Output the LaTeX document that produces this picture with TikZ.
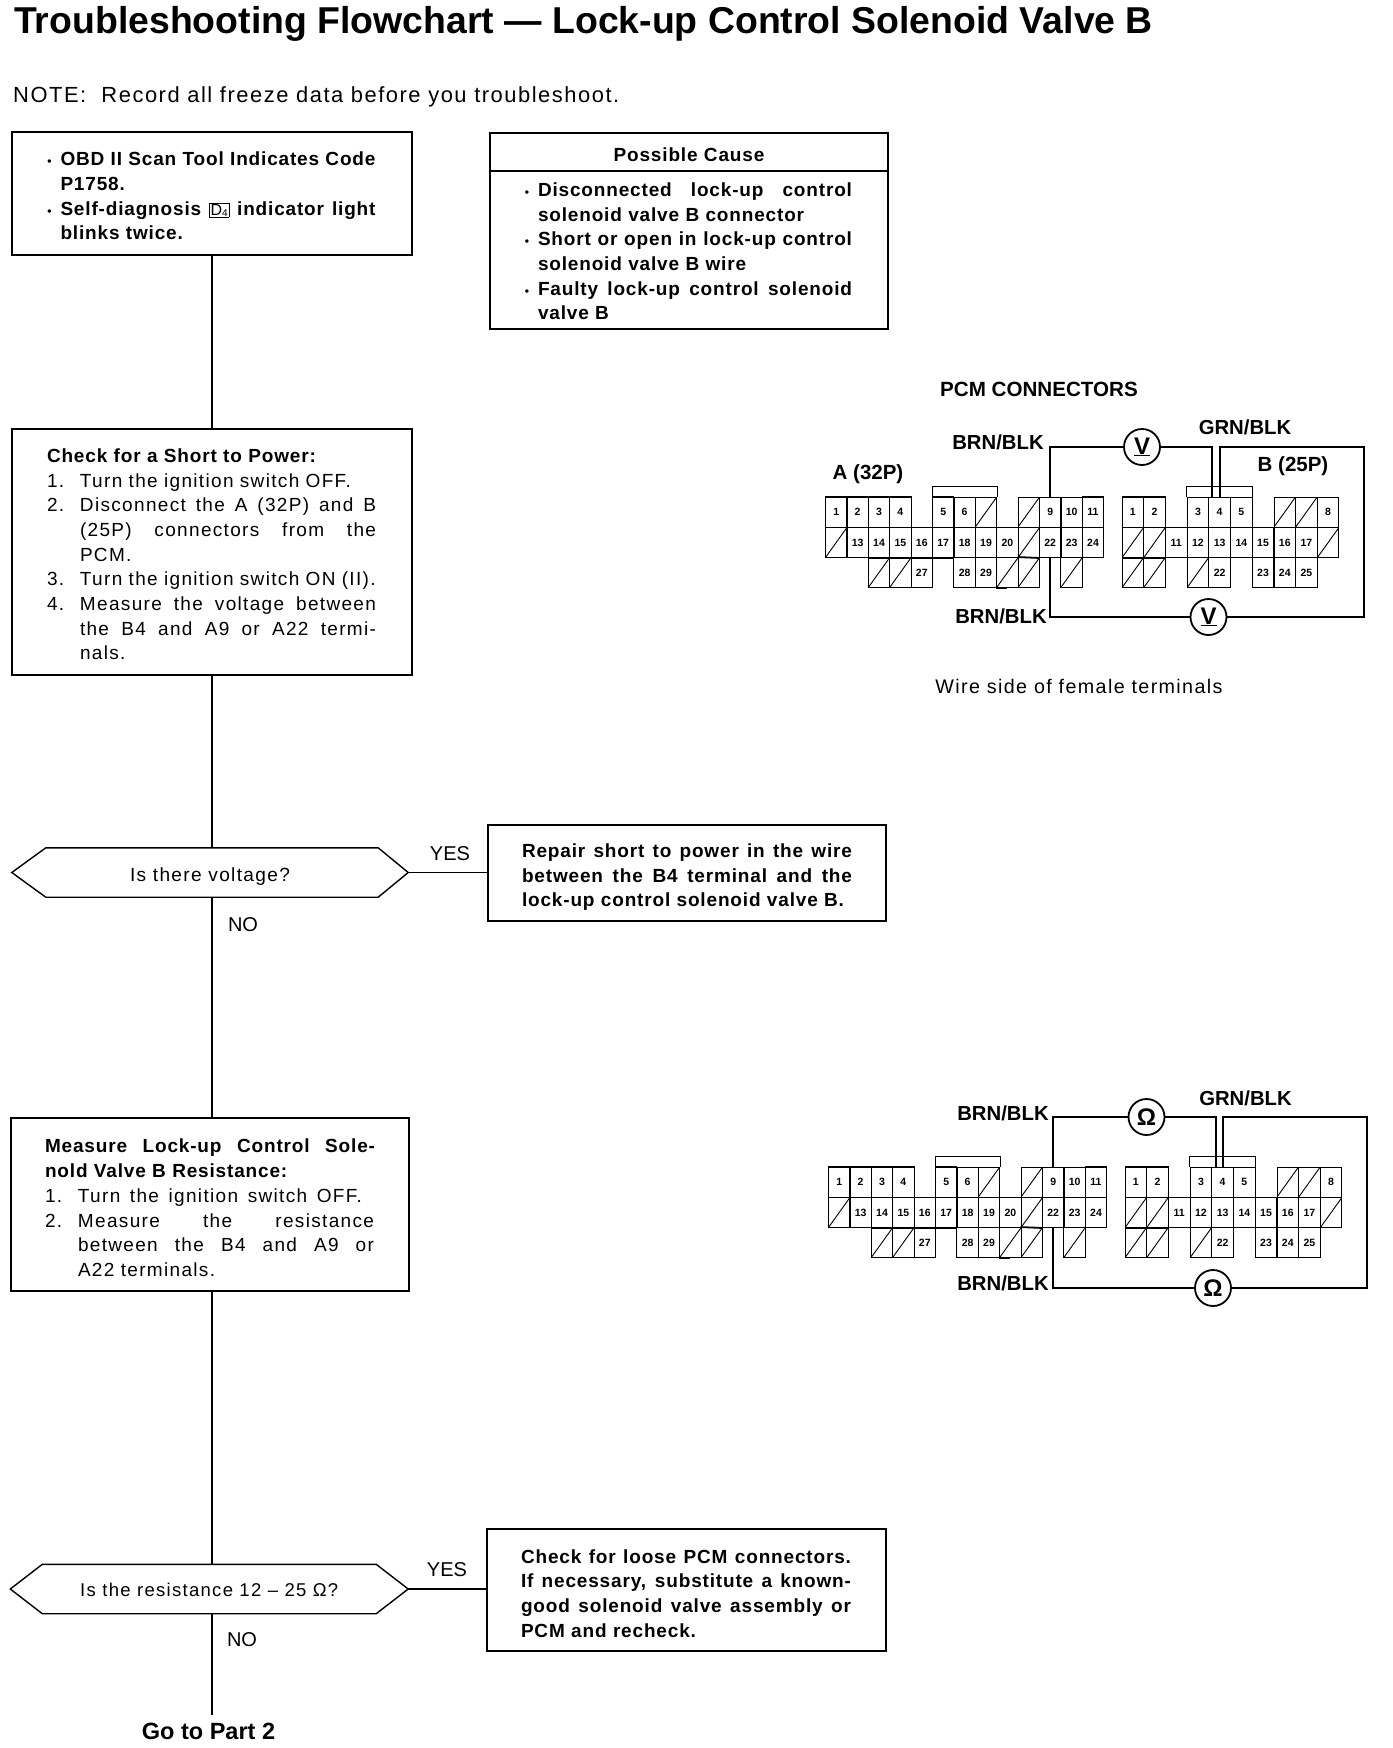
\documentclass[tikz,border=0pt]{standalone}
\usepackage{fontspec}
\setmainfont{Liberation Sans}
\newfontfamily\bodyfont{Liberation Sans}[LetterSpace=7]
\newfontfamily\boldbody{Liberation Sans}[LetterSpace=4.4]
\usetikzlibrary{calc}
\newcommand\tsz[2]{\fontsize{#1}{#2}\selectfont}
\newcommand\stl[2]{\makebox[#1pt][s]{\spaceskip=.28em plus 1fil\relax #2}}
\newcommand\numl[2]{\makebox[33pt][l]{#1}\mbox{#2}}
\newcommand\bul{\llap{{\tsz{12}{12}•}\hspace{9pt}}}
\newcommand\topadj[1]{\rule{0pt}{#1pt}}
\newcommand\pcmpins{%
  % A (32P)
  \foreach \c/\l in {0/1,1/2,2/3,3/4,5/5,6/6,10/9,11/10,12/11}
    \node[termcell] (a\l) at ({825.5+21.4*(\c+.5)},512) {\l};
  \foreach \c in {7,9}
    \node[termcell,hatchcell] (ah1\c) at ({825.5+21.4*(\c+.5)},512) {};
  \foreach \c/\l in {1/13,2/14,3/15,4/16,5/17,6/18,7/19,8/20,10/22,11/23,12/24}
    \node[termcell] (a\l) at ({825.5+21.4*(\c+.5)},542.5) {\l};
  \foreach \c in {0,9}
    \node[termcell,hatchcell] (ah2\c) at ({825.5+21.4*(\c+.5)},542.5) {};
  \foreach \c/\l in {4/27,6/28,7/29}
    \node[termcell] (a\l) at ({825.5+21.4*(\c+.5)},572.5) {\l};
  \foreach \c in {2,3,8,9,11}
    \node[termcell,hatchcell] (ah3\c) at ({825.5+21.4*(\c+.5)},572.5) {};
  \draw[thinrule] (a5.north west) -- ++(0,-10) -| (ah17.north east);
  \draw[heavyrule] (a1.north west) -- (a4.north east);
  \draw[heavyrule] (a1.south west) -- (a4.south east);
  \draw[heavyrule] (a14.south west) -- (a17.south east);
  \draw[heavyrule] (ah39.north west) -- (a22.south west);
  \draw[heavyrule] (a5.north west) -- (a5.north east);
  \draw[heavyrule] (a11.north west) -- (a11.north east);
  \draw[heavyrule] (ah38.south west) -- (ah38.south);
  % B (25P)
  \foreach \c/\l in {0/1,1/2,3/3,4/4,5/5,9/8}
    \node[termcell] (b\l) at ({1122+21.7*(\c+.5)},512) {\l};
  \foreach \c in {7,8}
    \node[termcell,hatchcell] (bh1\c) at ({1122+21.7*(\c+.5)},512) {};
  \foreach \c/\l in {2/11,3/12,4/13,5/14,6/15,7/16,8/17}
    \node[termcell] (b\l) at ({1122+21.7*(\c+.5)},542.5) {\l};
  \foreach \c in {0,1,9}
    \node[termcell,hatchcell] (bh2\c) at ({1122+21.7*(\c+.5)},542.5) {};
  \foreach \c/\l in {4/22,6/23,7/24,8/25}
    \node[termcell] (b\l) at ({1122+21.7*(\c+.5)},572.5) {\l};
  \foreach \c in {0,1,3}
    \node[termcell,hatchcell] (bh3\c) at ({1122+21.7*(\c+.5)},572.5) {};
  \draw[thinrule] (b3.north west) -- ++(0,-10) -| (b5.north east);
  \draw[heavyrule] (b1.north west) -- (b2.north east);
  \draw[heavyrule] (bh20.south west) -- (bh21.south east);
  \draw[heavyrule] (b1.south west) -- (b2.south east);
}
\begin{document}
\begin{tikzpicture}[x=1pt,y=-1pt,
  flowbox/.style={draw,line width=1.4pt,rectangle,inner ysep=0pt,align=left,
    font={\tsz{19}{24.7}\bodyfont}},
  boldbox/.style={flowbox,font={\tsz{19}{24.7}\boldbody\bfseries}},
  hexlabel/.style={inner sep=0pt},
  hexline/.style={line width=1.4pt,line join=miter},
  flowline/.style={line width=1.2pt},
  answer/.style={inner sep=0pt,font={\tsz{20}{24}}},
  wirelabel/.style={inner sep=0pt,font={\tsz{20.3}{24}\bfseries}},
  termcell/.style={draw,line width=.9pt,rectangle,inner sep=0pt,
    minimum width=21.5pt,minimum height=30pt,font={\tsz{10.5}{12}\bfseries}},
  hatchcell/.style={path picture={\draw[line width=.9pt]
    (path picture bounding box.south west) -- (path picture bounding box.north east);}},
  thinrule/.style={line width=.9pt},
  heavyrule/.style={line width=1.8pt},
  wire/.style={line width=2pt,line join=miter},
  meter/.style={draw,circle,line width=1.8pt,minimum size=36pt,inner sep=0pt,
    font={\tsz{24}{26}\bfseries}}]
\path[use as bounding box,fill=white] (0,0) rectangle (1392,1748);

\node[anchor=base west,inner sep=0pt,font={\tsz{37.4}{40}\bfseries}] (title) at (14,33)
  {Troubleshooting Flowchart — Lock-up Control Solenoid Valve B};
\node[anchor=base west,inner sep=0pt,font={\tsz{21.9}{26}\bodyfont}] (note) at (13,102)
  {NOTE:\ \ Record all freeze data before you troubleshoot.};

% flow column
\node[boldbox,minimum width=400pt,minimum height=123pt,inner xsep=48.5pt,text width=303pt] (box1) at (212,193.5)
  {\topadj{18.5}\mbox{\bul\stl{315}{OBD II Scan Tool Indicates Code}}\\
   \mbox{P1758.}\\
   \mbox{\bul\stl{315}{Self-diagnosis {\fboxsep=1pt\fbox{\bodyfont\mdseries\tsz{16}{16}D\raisebox{-1pt}{\tsz{10}{10}4}}} indicator light}}\\
   \mbox{blinks twice.}};
\coordinate (trunk) at (box1.south);

\node[flowbox,minimum width=400pt,minimum height=246pt,inner xsep=35pt,text width=330pt] (box2) at (212,552)
  {\topadj{18.5}\mbox{\boldbody\bfseries Check for a Short to Power:}\\
   \numl{1.}{Turn the ignition switch OFF.}\\
   \numl{2.}{\stl{296}{Disconnect the A (32P) and B}}\\
   \numl{}{\stl{296}{(25P) connectors from the}}\\
   \numl{}{PCM.}\\
   \numl{3.}{Turn the ignition switch ON (II).}\\
   \numl{4.}{\stl{296}{Measure the voltage between}}\\
   \numl{}{\stl{296}{the B4 and A9 or A22 termi-}}\\
   \numl{}{nals.}};

\node[hexlabel,minimum width=396pt,minimum height=49pt,font={\tsz{19.1}{24}\bodyfont}] (hex1) at (210,872.5) {\topadj{22}Is there voltage?};
\draw[hexline] (hex1.west) -- ($(hex1.north west)+(34,0)$) -- ($(hex1.north east)+(-30,0)$)
  -- (hex1.east) -- ($(hex1.south east)+(-30,0)$) -- ($(hex1.south west)+(34,0)$) -- cycle;

\node[flowbox,minimum width=398pt,minimum height=173pt,inner xsep=34pt,text width=330pt] (box3) at (210,1204.5)
  {\topadj{20.5}\mbox{\boldbody\bfseries\stl{330}{Measure Lock-up Control Sole-}}\\
   \mbox{\boldbody\bfseries nold Valve B Resistance:}\\
   \numl{1.}{\stl{284}{Turn the ignition switch OFF.}}\\
   \numl{2.}{\stl{296}{Measure the resistance}}\\
   \numl{}{\stl{296}{between the B4 and A9 or}}\\
   \numl{}{A22 terminals.}};

\node[hexlabel,minimum width=397.5pt,minimum height=49pt,font={\tsz{18.5}{24}\bodyfont}] (hex2) at (209.25,1589) {\topadj{16}Is the resistance 12 – 25 Ω?};
\draw[hexline] (hex2.west) -- ($(hex2.north west)+(32,0)$) -- ($(hex2.north east)+(-32,0)$)
  -- (hex2.east) -- ($(hex2.south east)+(-32,0)$) -- ($(hex2.south west)+(32,0)$) -- cycle;

\node[inner sep=0pt,outer ysep=8pt,font={\tsz{23.5}{26}\bfseries}] (part2) at (208.5,1731) {Go to Part 2};

% possible cause
\node[boldbox,minimum width=398pt,minimum height=38pt,align=center,text width=380pt] (causehead) at (689,152) {\topadj{18.5}Possible Cause};
\node[boldbox,minimum width=398pt,minimum height=158pt,inner xsep=48pt,text width=302pt] (causebody) at (689,250)
  {\topadj{16.5}\mbox{\bul\stl{314}{Disconnected lock-up control}}\\
   \mbox{solenoid valve B connector}\\
   \mbox{\bul\stl{314}{Short or open in lock-up control}}\\
   \mbox{solenoid valve B wire}\\
   \mbox{\bul\stl{314}{Faulty lock-up control solenoid}}\\
   \mbox{valve B}};

% repair boxes
\node[boldbox,minimum width=398pt,minimum height=96pt,inner xsep=34pt,text width=330pt] (repair) at (687,873)
  {\topadj{22.5}\mbox{\stl{330}{Repair short to power in the wire}}\\
   \mbox{\stl{330}{between the B4 terminal and the}}\\
   \mbox{lock-up control solenoid valve B.}};
\node[boldbox,minimum width=399pt,minimum height=122pt,inner xsep=34pt,text width=331pt] (check) at (686.5,1590)
  {\topadj{20.5}\mbox{\stl{330}{Check for loose PCM connectors.}}\\
   \mbox{\stl{330}{If necessary, substitute a known-}}\\
   \mbox{\stl{330}{good solenoid valve assembly or}}\\
   \mbox{PCM and recheck.}};

% flow connectors
\draw[flowline] (box1.south) -- (trunk |- box2.north);
\draw[flowline] (trunk |- box2.south) -- (trunk |- hex1.north);
\draw[flowline] (trunk |- hex1.south) -- (trunk |- box3.north);
\draw[flowline] (trunk |- box3.south) -- (trunk |- hex2.north);
\draw[flowline] (trunk |- hex2.south) -- (trunk |- part2.north);
\draw[flowline] (hex1.east) -- (repair.west |- hex1.east);
\draw[flowline] (hex2.east) -- (check.west |- hex2.east);
\node[answer] (yes1) at (450,854) {YES};
\node[answer] (no1) at (243,925) {NO};
\node[answer] (yes2) at (447,1570) {YES};
\node[answer] (no2) at (242,1640) {NO};

% first connector drawing
\node[inner sep=0pt,font={\tsz{20.6}{24}\bfseries}] (pcmtitle) at (1039,389) {PCM CONNECTORS};
\node[inner sep=0pt,font={\tsz{20.5}{24}\bfseries}] (alabel) at (868,474) {A (32P)};
\node[inner sep=0pt,font={\tsz{20.5}{24}\bfseries}] (blabel) at (1293,466) {B (25P)};
\begin{scope}[name prefix=p1-]
  \pcmpins
\end{scope}
\node[meter] (v1) at (1142,447) {\underline{V}};
\node[meter] (v2) at (1208.5,617) {\underline{V}};
\coordinate (p1-bl) at ($(p1-b4.north west)+(4,0)$);
\coordinate (p1-corner) at (1364,447);
\draw[wire] (p1-a9.north) |- (v1.west);
\draw[wire] (v1.east) -| (p1-bl);
\draw[wire] (p1-b4.north) |- (p1-corner) |- (v2.east);
\draw[wire] (v2.west) -| (p1-a22.south);
\node[wirelabel] (w1) at (998,442) {BRN/BLK};
\node[wirelabel] (w2) at (1245,427) {GRN/BLK};
\node[wirelabel] (w3) at (1001,616) {BRN/BLK};
\node[inner sep=0pt,font={\tsz{19.7}{24}\bodyfont}] (wireside) at (1079,686) {Wire side of female terminals};

% second connector drawing
\begin{scope}[shift={(3,670)},name prefix=p2-]
  \pcmpins
\end{scope}
\node[meter] (o1) at (1146.5,1117) {Ω};
\node[meter] (o2) at (1213,1288) {Ω};
\coordinate (p2-bl) at ($(p2-b4.north west)+(4.5,0)$);
\coordinate (p2-corner) at (1366.5,1117);
\draw[wire] (p2-a9.north) |- (o1.west);
\draw[wire] (o1.east) -| (p2-bl);
\draw[wire] (p2-b4.north) |- (p2-corner) |- (o2.east);
\draw[wire] (o2.west) -| (p2-a22.south);
\node[wirelabel] (w4) at (1003,1113) {BRN/BLK};
\node[wirelabel] (w5) at (1245.5,1098) {GRN/BLK};
\node[wirelabel] (w6) at (1003,1283) {BRN/BLK};
\end{tikzpicture}
\end{document}
